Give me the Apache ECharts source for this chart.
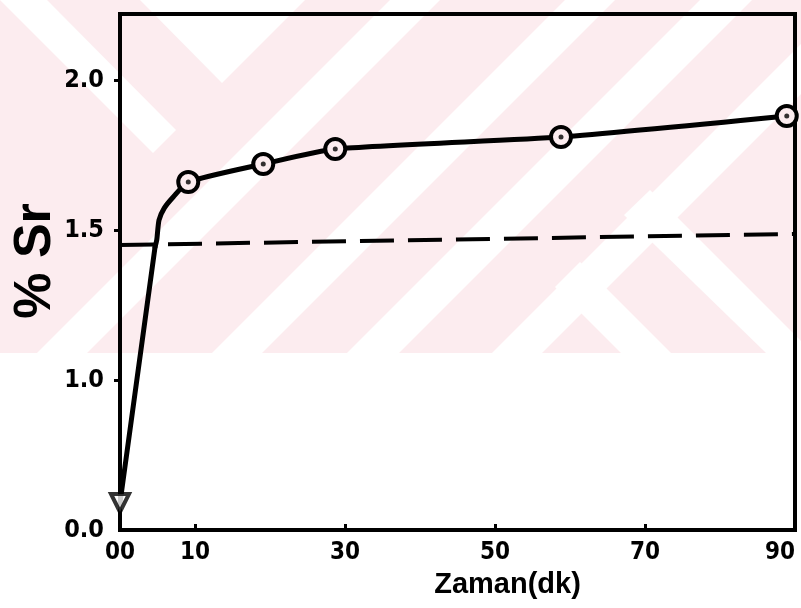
<!DOCTYPE html>
<html><head><meta charset="utf-8">
<script src="https://cdn.jsdelivr.net/npm/echarts@6/dist/echarts.min.js"></script>
<style>html,body{margin:0;padding:0;background:#fff}#c{width:801px;height:608px}</style>
</head><body><div id="c"></div>
<script>
// measured points (circles)
const measTime = [9.1, 19.1, 28.7, 58.8, 88.9];
const measSr   = [1.66, 1.72, 1.77, 1.81, 1.88];
// starting point (triangle)
const startTime = [0];
const startSr   = [0.09];
// steep initial rise (straight stroke)
const riseTime = [0, 4.67];
const riseSr   = [0.09, 1.443];
// points read along the drawn curve after the knee
const curveTime = [4.67, 4.9, 5.2, 5.9, 7.1, 9.1, 19.1, 28.7, 58.8, 88.9];
const curveSr   = [1.443, 1.467, 1.533, 1.573, 1.61, 1.66, 1.72, 1.77, 1.81, 1.88];
// dashed reference line
const refTime = [0, 90];
const refSr   = [1.45, 1.487];
// tick labels
const xLabelValues = [0, 10, 30, 50, 70, 90];
const xTickValues  = [10, 30, 50, 70];
const yLabelValues = [0, 1.0, 1.5, 2.0];
const yTickValues  = [1.0, 1.5, 2.0];

const zip = (a, b) => a.map((v, i) => [v, b[i]]);
const pink = '#fcecef';
const font = 'Liberation Sans';
const narrow = "'DejaVu Sans Condensed', 'Liberation Sans'";

// background watermark (decoration only)
const wmWhite = [
  [[0,0],[47,0],[176,130],[153,153]],
  [[140,0],[305,0],[222,83]],
  [[390,0],[440,0],[87,353],[37,353]],
  [[565,0],[615,0],[262,353],[212,353]],
  [[700,0],[752,0],[399,353],[347,353]],
  [[801,44],[801,94],[542,353],[492,353]],
  [[650,190],[801,341],[801,353],[766,353],[624,215]],
  [[580,262],[671,353],[621,353],[555,287]]
];
const wm = [{ type: 'rect', z: -10, silent: true, shape: { x: 0, y: 0, width: 801, height: 353 }, style: { fill: pink } }]
  .concat(wmWhite.map(p => ({ type: 'polygon', z: -9, silent: true, shape: { points: p }, style: { fill: '#fff' } })));

const chart = echarts.init(document.getElementById('c'));
chart.setOption({
  animation: false,
  backgroundColor: '#fff',
  graphic: { elements: wm },
  grid: { left: 120, right: 6, top: 14, bottom: 78, outerBoundsMode: 'none', containLabel: false,
    show: true, borderColor: '#000', borderWidth: 4, backgroundColor: 'transparent' },
  xAxis: {
    type: 'value', min: 0, max: 90, interval: 10,
    name: 'Zaman(dk)', nameLocation: 'middle', nameGap: 40, nameMoveOverlap: false,
    nameTextStyle: { fontFamily: font, fontWeight: 'bold', fontSize: 29, color: '#000', padding: [0, 0, 0, 100] },
    axisLine: { lineStyle: { color: '#000', width: 4 } },
    axisTick: { show: true, inside: true, length: 6, customValues: xTickValues, lineStyle: { color: '#000', width: 3 } },
    axisLabel: { customValues: xLabelValues, margin: 11, alignMaxLabel: 'right',
      fontFamily: narrow, fontWeight: 'bold', fontSize: 24, color: '#000',
      formatter: v => v === 0 ? '00' : String(v) },
    splitLine: { show: false }
  },
  yAxis: {
    type: 'value', min: 0, max: 2.22, interval: 0.5,
    breaks: [{ start: 0.1, end: 0.9, gap: '17.44%' }],
    breakArea: { show: false },
    name: '% Sr', nameLocation: 'middle', nameGap: 58, nameRotate: 90, nameMoveOverlap: false,
    nameTextStyle: { fontFamily: font, fontWeight: 'bold', fontSize: 52, color: '#000', padding: [0, 0, 0, 22] },
    axisLine: { show: true, lineStyle: { color: '#000', width: 4 } },
    axisTick: { show: true, length: 6, customValues: yTickValues, lineStyle: { color: '#000', width: 3 } },
    axisLabel: { customValues: yLabelValues, margin: 16, fontFamily: narrow, fontWeight: 'bold', fontSize: 25, color: '#000',
      formatter: v => yLabelValues.some(y => Math.abs(y - v) < 1e-6) ? v.toFixed(1) : '' },
    splitLine: { show: false }
  },
  series: [
    { type: 'line', data: zip(refTime, refSr), symbol: 'none', z: 2,
      lineStyle: { color: '#000', width: 4, type: [34, 14] } },
    { type: 'line', data: zip(riseTime, riseSr), symbol: 'none', z: 3,
      lineStyle: { color: '#000', width: 5, cap: 'round' } },
    { type: 'line', data: zip(curveTime, curveSr), symbol: 'none', smooth: 0.2, z: 3,
      lineStyle: { color: '#000', width: 5, cap: 'round', join: 'round' } },
    { type: 'scatter', data: zip(measTime, measSr), symbol: 'circle', symbolSize: 20, z: 4,
      itemStyle: { color: pink, borderColor: '#000', borderWidth: 4, opacity: 1 } },
    { type: 'scatter', data: zip(measTime, measSr), symbol: 'circle', symbolSize: 5, z: 5,
      itemStyle: { color: '#000' } },
    { type: 'scatter', data: zip(startTime, startSr), symbol: 'triangle', symbolRotate: 180, symbolSize: 18, z: 5,
      itemStyle: { color: '#fff', borderColor: '#000', borderWidth: 4 } }
  ]
});
</script>
</body></html>
